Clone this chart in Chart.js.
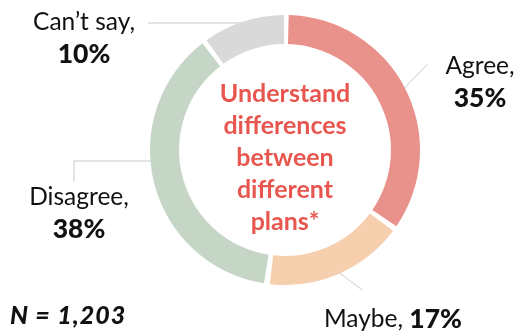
<!DOCTYPE html>
<html>
<head>
<meta charset="utf-8">
<script src="https://cdn.jsdelivr.net/npm/chart.js@4"></script>
<style>
  html, body { margin: 0; padding: 0; background: #ffffff; }
  #wrap { position: relative; width: 517px; height: 334px; }
</style>
</head>
<body>
<div id="wrap"><canvas id="donut"></canvas></div>
<script>
// survey answers
const answers = ['Agree', 'Maybe', 'Disagree', 'Can’t say'];
const shares = [35, 17, 38, 10];
const sliceColors = ['#E9918B', '#F6CFAE', '#C6D6C6', '#D9D9D9'];
const centerLines = ['Understand', 'differences', 'between', 'different', 'plans*'];
const sampleNote = 'N = 1,203';

const FONT = 'Lato, "Open Sans", sans-serif';
const INK = '#111111';

// where each callout sits; leader starts on the slice (at = fraction along slice, r = 'outer' | 'mid')
const callouts = [
  { at: 0.5, r: 'outer', path: [[0, 0], [25, -26]], x: 480, y: 66, lines: 2 },
  { at: 0.5, r: 'outer', path: [[1, 1], [25, 19]], x: 462, y: 319, lines: 1 },
  { at: 0.566, r: 'mid', path: [[0, 0], [-94, 0], [-94, 21]], x: 79, y: 197, lines: 2 },
  { at: 0.5, r: 'outer', path: [[-3, -1.5], [-96, -1.5]], x: 84, y: 22, lines: 2 }
];

function anchorOf(arc, c) {
  const p = arc.getProps(['x', 'y', 'startAngle', 'endAngle', 'innerRadius', 'outerRadius'], true);
  const a = p.startAngle + (p.endAngle - p.startAngle) * c.at;
  const r = c.r === 'mid' ? (p.innerRadius + p.outerRadius) / 2 : p.outerRadius;
  return { x: p.x + Math.cos(a) * r, y: p.y + Math.sin(a) * r };
}

// leader lines go under the ring
const leaderLines = {
  id: 'leaderLines',
  beforeDatasetsDraw(chart) {
    const ctx = chart.ctx;
    const arcs = chart.getDatasetMeta(0).data;
    ctx.save();
    ctx.strokeStyle = '#C9C9C9';
    ctx.lineWidth = 1;
    callouts.forEach((c, i) => {
      const a = anchorOf(arcs[i], c);
      ctx.beginPath();
      c.path.forEach(([dx, dy], k) => {
        if (k === 0) ctx.moveTo(a.x + dx, a.y + dy);
        else ctx.lineTo(a.x + dx, a.y + dy);
      });
      ctx.stroke();
    });
    ctx.restore();
  }
};

// labels, centre title and sample size
const textLayer = {
  id: 'textLayer',
  afterDatasetsDraw(chart) {
    const ctx = chart.ctx;
    const arcs = chart.getDatasetMeta(0).data;
    const regular = '400 24.5px ' + FONT;
    const bold = '900 26.5px ' + FONT;
    ctx.save();
    ctx.textBaseline = 'middle';
    ctx.fillStyle = INK;
    callouts.forEach((c, i) => {
      const name = answers[i] + ',';
      const pct = shares[i] + '%';
      if (c.lines === 2) {
        ctx.textAlign = 'center';
        ctx.font = regular;
        ctx.fillText(name, c.x, c.y);
        ctx.font = bold;
        ctx.fillText(pct, c.x, c.y + 32);
      } else {
        ctx.font = bold;
        const w = ctx.measureText(pct).width;
        ctx.textAlign = 'right';
        ctx.fillText(pct, c.x, c.y);
        ctx.font = regular;
        ctx.fillText(name + ' ', c.x - w, c.y);
      }
    });

    const cx = arcs[0].x, cy = arcs[0].y;
    ctx.textAlign = 'center';
    ctx.fillStyle = '#E8574F';
    ctx.font = '700 25px ' + FONT;
    const step = 32;
    const top = cy - step * (centerLines.length - 1) / 2 + 8;
    centerLines.forEach((t, k) => ctx.fillText(t, cx, top + k * step));

    ctx.textAlign = 'left';
    ctx.fillStyle = INK;
    ctx.font = 'italic 900 25px ' + FONT;
    ctx.letterSpacing = '1px';
    ctx.fillText(sampleNote, 10, 316);
    ctx.restore();
  }
};

new Chart(document.getElementById('donut'), {
  type: 'doughnut',
  data: {
    labels: answers,
    datasets: [{
      data: shares,
      backgroundColor: sliceColors,
      borderWidth: 0,
      spacing: 6,
      hoverOffset: 0
    }]
  },
  options: {
    responsive: true,
    maintainAspectRatio: false,
    animation: false,
    cutout: '78%',
    layout: { padding: { left: 150, right: 97, top: 15, bottom: 49 } },
    plugins: {
      legend: { display: false },
      tooltip: { enabled: false }
    }
  },
  plugins: [leaderLines, textLayer]
});
</script>
</body>
</html>
